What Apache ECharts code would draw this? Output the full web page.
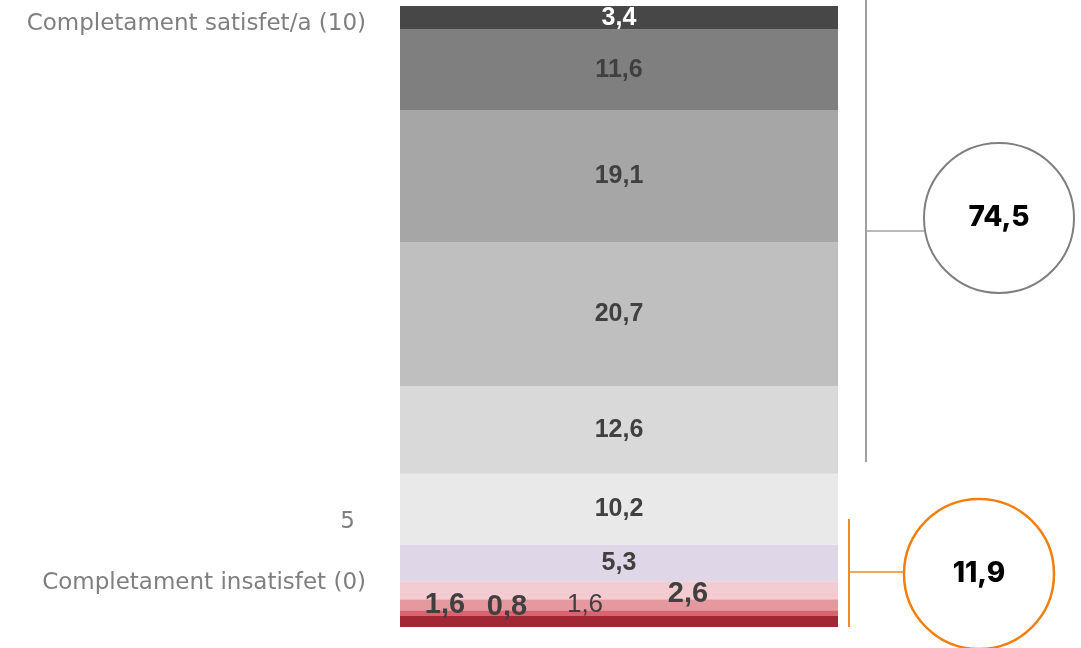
<!DOCTYPE html>
<html>
<head>
<meta charset="utf-8">
<script src="https://cdn.jsdelivr.net/npm/echarts@6/dist/echarts.min.js"></script>
<style>
  html, body { margin:0; padding:0; background:#fff; }
  #main { width:1081px; height:648px; }
</style>
</head>
<body>
<div id="main"></div>
<script>
// puntuacions 0..10, de baix a dalt
let scores = ['0','1','2','3','4','5','6','7','8','9','10'];
let values = [1.6, 0.8, 1.6, 2.6, 5.3, 10.2, 12.6, 20.7, 19.1, 11.6, 3.4];
let colors = ['#A22735','#D9646F','#E6989F','#F2CCD0','#DFD7E7','#E9E9E9','#D9D9D9','#BFBFBF','#A6A6A6','#7F7F7F','#474747'];
let axisTexts = ['Completament insatisfet (0)', '5', 'Completament satisfet/a (10)'];
let groupTotals = ['74,5', '11,9'];

let total = values.reduce((a,b)=>a+b, 0);
let fmt = v => v.toFixed(1).replace('.', ',');

// labels at the bottom are moved off the thin bands
let labelTweaks = {
  0: {offset:[-174,-16], fontSize:29},
  1: {offset:[-112,-6], fontSize:29},
  2: {offset:[-34,0], fontSize:26, fontWeight:'normal'},
  3: {offset:[69,4], fontSize:29}
};

let series = values.map(function(v, i){
  let lab = {
    show:true,
    position:'inside',
    formatter: fmt(v),
    fontFamily:'Arial',
    fontWeight:'bold',
    fontSize:25,
    color: i == 10 ? '#fff' : '#404040'
  };
  if(labelTweaks[i]) Object.assign(lab, labelTweaks[i]);
  return {
    name: scores[i],
    type:'bar',
    stack:'s',
    barWidth:'100%',
    data:[v],
    itemStyle:{color:colors[i]},
    label: lab,
    silent:true
  };
});

let leftFont = '23px "DejaVu Sans"';

let option = {
  animation:false,
  backgroundColor:'#fff',
  grid:{left:400, right:243, top:6, bottom:21},
  xAxis:{type:'category', data:['x'], show:false},
  yAxis:{type:'value', min:0, max:total, show:false},
  series: series,
  graphic:[
    {type:'text', x:366, y:24, style:{text:axisTexts[2], font:leftFont, fill:'#7f7f7f', textAlign:'right', textVerticalAlign:'middle'}},
    {type:'text', x:355, y:522, style:{text:axisTexts[1], font:leftFont, fill:'#7f7f7f', textAlign:'right', textVerticalAlign:'middle'}},
    {type:'text', x:366, y:583, style:{text:axisTexts[0], font:leftFont, fill:'#7f7f7f', textAlign:'right', textVerticalAlign:'middle'}},
    // grey bracket
    {type:'line', shape:{x1:866, y1:0, x2:866, y2:462}, style:{stroke:'#A0A0A0', lineWidth:2}},
    {type:'line', shape:{x1:866, y1:231, x2:924, y2:231}, style:{stroke:'#A0A0A0', lineWidth:1.5}},
    {type:'circle', shape:{cx:999, cy:218, r:75}, style:{fill:'#fff', stroke:'#7f7f7f', lineWidth:2}},
    {type:'text', x:999, y:218, style:{text:groupTotals[0], font:'800 28px Inter, sans-serif', fill:'#000', textAlign:'center', textVerticalAlign:'middle'}},
    // orange bracket
    {type:'line', shape:{x1:849, y1:519, x2:849, y2:627}, style:{stroke:'#F08A24', lineWidth:2}},
    {type:'line', shape:{x1:849, y1:572, x2:905, y2:572}, style:{stroke:'#F08A24', lineWidth:1.5}},
    {type:'circle', shape:{cx:979, cy:574, r:75}, style:{fill:'#fff', stroke:'#EF7F0F', lineWidth:2.5}},
    {type:'text', x:979, y:574, style:{text:groupTotals[1], font:'800 28px Inter, sans-serif', fill:'#000', textAlign:'center', textVerticalAlign:'middle'}}
  ]
};

let chart = echarts.init(document.getElementById('main'));
chart.setOption(option);
</script>
</body>
</html>
